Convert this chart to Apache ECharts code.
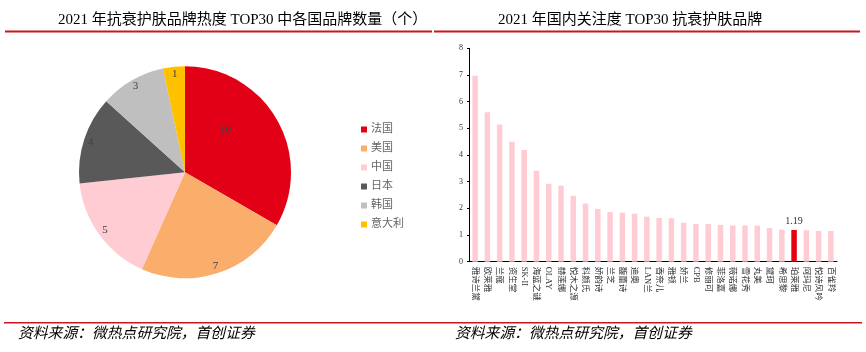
<!DOCTYPE html>
<html><head><meta charset="utf-8">
<script src="https://cdn.jsdelivr.net/npm/echarts@6/dist/echarts.min.js"></script>
<style>html,body{margin:0;padding:0;background:#fff}#c{width:866px;height:352px}</style>
</head><body><div id="c"></div>
<script>
const countries = ['法国','美国','中国','日本','韩国','意大利'];
const brandCounts = [10, 7, 5, 4, 3, 1];
const pieColors = ['#E20016','#FBAE6C','#FFCCD3','#595959','#BFBFBF','#FFC000'];

const brands = ['雅诗兰黛','欧莱雅','兰蔻','资生堂','SK-II','海蓝之谜','OLAY','赫莲娜','悦木之源','科颜氏','娇韵诗','兰芝','馥蕾诗','迪奥','LAN兰','香奈儿','雅顿','娇兰','CPB','修丽可','菲洛嘉','薇诺娜','雪花秀','丸美','黛珂','希思黎','珀莱雅','阿玛尼','悦诗风吟','百雀羚'];
const attention = [6.97,5.60,5.14,4.50,4.19,3.41,2.92,2.85,2.47,2.18,1.98,1.86,1.84,1.80,1.69,1.64,1.63,1.46,1.41,1.41,1.38,1.36,1.36,1.35,1.26,1.20,1.19,1.18,1.15,1.15];
const highlightBrand = '珀莱雅';
const yTicks = [0,1,2,3,4,5,6,7,8];

const serif = '"Liberation Serif","Times New Roman","Noto Sans CJK SC",serif';
const cjk = '"Liberation Serif","Noto Sans CJK SC",serif';

const chart = echarts.init(document.getElementById('c'), null, {renderer:'canvas'});
const pieData = countries.map((n,i)=>({name:n, value:brandCounts[i], itemStyle:{color:pieColors[i]}}));
const barData = attention.map((v,i)=>{
  const hl = brands[i]===highlightBrand;
  return {value:v, itemStyle:{color: hl ? '#E60012' : '#FFCCD3'},
    label:{show:hl, position:'top', distance:4, formatter:'{c}', color:'#333', fontSize:10, fontFamily:serif}};
});

chart.setOption({
  animation:false,
  title:[
    {text:'2021 年抗衰护肤品牌热度 TOP30 中各国品牌数量（个）', left:53, top:8,
     textStyle:{fontSize:15, fontWeight:'normal', color:'#000', fontFamily:cjk}},
    {text:'2021 年国内关注度 TOP30 抗衰护肤品牌', left:493, top:8,
     textStyle:{fontSize:15, fontWeight:'normal', color:'#000', fontFamily:cjk}}
  ],
  legend:{
    orient:'vertical', left:356, top:119, itemWidth:6, itemHeight:6, itemGap:8,
    icon:'rect', data:countries,
    textStyle:{fontSize:11, color:'#666', fontFamily:cjk, padding:[0,0,0,-1]}
  },
  grid:{left:469, right:29, top:48.3, bottom:90.3, containLabel:false},
  xAxis:{
    type:'category', data:brands,
    axisLine:{lineStyle:{color:'#000', width:1}},
    axisTick:{show:false},
    axisLabel:{rotate:-90, interval:0, fontSize:8.5, color:'#333', fontFamily:cjk, margin:5}
  },
  yAxis:{
    type:'value', min:0, max:8, interval:1,
    axisLine:{show:true, lineStyle:{color:'#000', width:1}},
    axisTick:{show:true, length:2, lineStyle:{color:'#000'}},
    splitLine:{show:false},
    axisLabel:{fontSize:8, color:'#333', fontFamily:serif, margin:6,
      formatter:v=> yTicks.includes(v) ? String(v) : ''}
  },
  series:[
    {
      type:'pie', center:[185,172.3], radius:[0,106], startAngle:90, clockwise:true,
      silent:true, data:pieData.map((d,i)=>Object.assign({}, d, {label:{show:i===0, offset:[-8,-14]}})),
      label:{position:'inside', color:'#404040', fontSize:11, fontFamily:serif, formatter:'{c}'},
      labelLine:{show:false},
      itemStyle:{borderWidth:0}
    },
    {
      type:'pie', center:[185,172.3], radius:[87,105], startAngle:90, clockwise:true,
      silent:true, legendHoverLink:false,
      data:countries.map((n,i)=>({name:n+' ', value:brandCounts[i],
        itemStyle:{color:'rgba(0,0,0,0)'}, label:{show:i!==0}})),
      label:{position:'inside', color:'#404040', fontSize:11, fontFamily:serif, formatter:'{c}'},
      labelLine:{show:false},
      itemStyle:{borderWidth:0}, z:3
    },
    {
      type:'bar', data:barData, barWidth:5.5, silent:true
    }
  ],
  graphic:[
    {type:'rect', shape:{x:5, y:30.5, width:427, height:2}, style:{fill:'#C8161D'}, silent:true},
    {type:'rect', shape:{x:434, y:30.5, width:426, height:2}, style:{fill:'#C8161D'}, silent:true},
    {type:'rect', shape:{x:4, y:322, width:858, height:1.5}, style:{fill:'#C8161D'}, silent:true},
    {type:'text', left:18, top:325, style:{text:'资料来源：微热点研究院，首创证券', font:'italic 14.8px "Noto Sans CJK SC", sans-serif', fill:'#000'}, silent:true},
    {type:'text', left:455, top:325, style:{text:'资料来源：微热点研究院，首创证券', font:'italic 14.8px "Noto Sans CJK SC", sans-serif', fill:'#000'}, silent:true}
  ]
});
</script></body></html>
